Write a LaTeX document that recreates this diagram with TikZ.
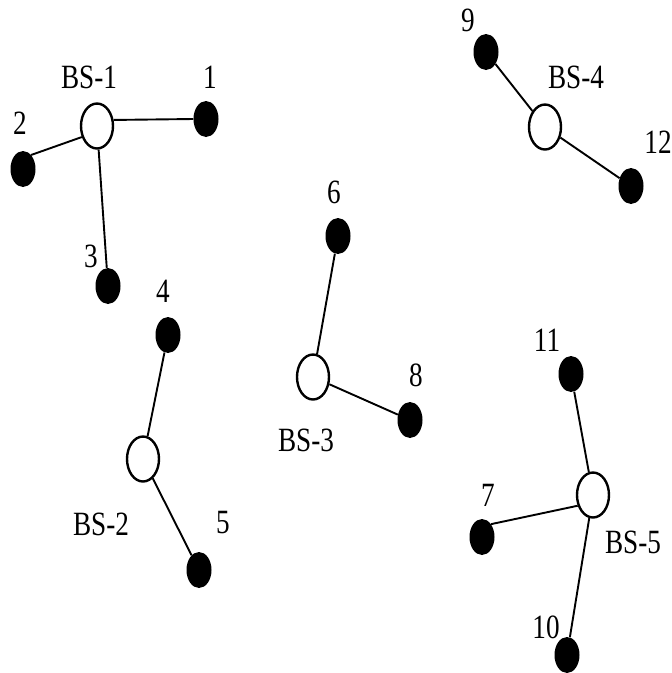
\documentclass[tikz,border=0pt]{standalone}
\usepackage{fontspec}
\setmainfont{Liberation Serif}
\newfontfamily\tagfont[FakeStretch=0.8]{Liberation Serif}
\usetikzlibrary{shapes.geometric}

\begin{document}
\begin{tikzpicture}[
    x=1pt, y=-1pt,
    bs/.style={draw, ellipse, line width=2.4pt, inner sep=0pt, minimum width=32pt, minimum height=45pt, fill=white},
    user/.style={ellipse, fill=black, inner sep=0pt, minimum width=25pt, minimum height=36pt},
    tag/.style={font=\tagfont\fontsize{34}{34}\selectfont, inner sep=0pt},
    link/.style={line width=1.9pt}
]
\useasboundingbox (0,0) rectangle (672,673);

% base stations
\node[bs] (B1) at (97,126) {};
\node[bs] (B2) at (143,459) {};
\node[bs] (B3) at (313,377) {};
\node[bs] (B4) at (545,127) {};
\node[bs] (B5) at (593,495) {};

% users
\node[user] (U1) at (206,119) {};
\node[user] (U2) at (23,169) {};
\node[user] (U3) at (108,286) {};
\node[user] (U4) at (168,335) {};
\node[user] (U5) at (199,570) {};
\node[user] (U6) at (338,236) {};
\node[user] (U7) at (482,537) {};
\node[user] (U8) at (410,420) {};
\node[user] (U9) at (486,52) {};
\node[user] (U10) at (567,655) {};
\node[user] (U11) at (571,374) {};
\node[user] (U12) at (631,186) {};

% links
\draw[link] (B1.20) -- (U1.west);
\draw[link] (B1.216) -- (U2.60);
\draw[link] (B1) -- (U3);
\draw[link] (B2) -- (U4);
\draw[link] (B2) -- (U5);
\draw[link] (B3) -- (U6);
\draw[link] (B3) -- (U8);
\draw[link] (B4) -- (U9);
\draw[link] (B4) -- (U12);
\draw[link] (B5) -- (U11);
\draw[link] (B5.215) -- (U7.55);
\draw[link] (B5) -- (U10);

% labels
\node[tag] (T1) at (89,77) {BS-1};
\node[tag] (T2) at (101,524) {BS-2};
\node[tag] (T3) at (306,440) {BS-3};
\node[tag] (T4) at (576,77) {BS-4};
\node[tag] (T5) at (633,542) {BS-5};
\node[tag] (L1) at (210,77) {1};
\node[tag] (L2) at (20,123) {2};
\node[tag] (L3) at (91,256) {3};
\node[tag] (L4) at (163,291) {4};
\node[tag] (L5) at (223,523) {5};
\node[tag] (L6) at (334,192) {6};
\node[tag] (L7) at (488,495) {7};
\node[tag] (L8) at (416,375) {8};
\node[tag] (L9) at (468,20) {9};
\node[tag] (L10) at (546,627) {10};
\node[tag] (L11) at (547,340) {11};
\node[tag] (L12) at (658,142) {12};

\end{tikzpicture}
\end{document}
